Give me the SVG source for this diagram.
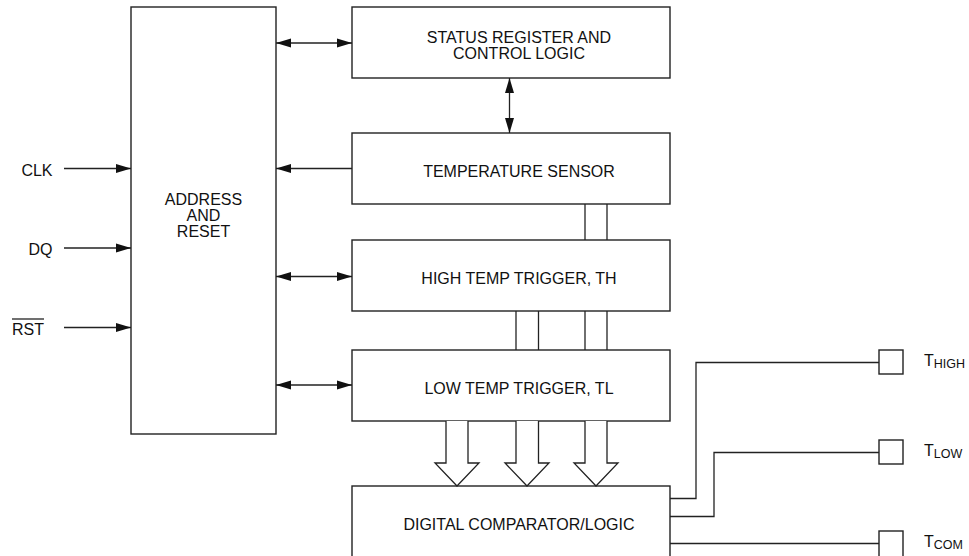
<svg xmlns="http://www.w3.org/2000/svg" width="969" height="556" viewBox="0 0 969 556">
<defs>
<style>
.box{fill:#fff;stroke:#222;stroke-width:1.4}
.ln{fill:none;stroke:#222;stroke-width:1.3}
.big{fill:#fff;stroke:#222;stroke-width:1.3;stroke-linejoin:miter}
text{font-family:"Liberation Sans",Arial,sans-serif;font-size:16px;fill:#111}
.c{text-anchor:middle}
.e{text-anchor:end}
.sub{font-size:12.5px}
</style>
<marker id="ah" markerUnits="userSpaceOnUse" markerWidth="16" markerHeight="10" refX="15" refY="4.5" orient="auto-start-reverse" viewBox="0 0 16 9">
<path d="M0,0 L15,4.5 L0,9 z" fill="#111"/>
</marker>
</defs>
<rect width="969" height="556" fill="#fff"/>

<g id="address">
<rect class="box" x="131" y="7" width="145" height="427"/>
<text class="c" x="203.5" y="205">ADDRESS</text>
<text class="c" x="203.5" y="221">AND</text>
<text class="c" x="203.5" y="237">RESET</text>
</g>

<g id="status">
<rect class="box" x="352" y="7" width="318" height="71"/>
<text class="c" x="519" y="43">STATUS REGISTER AND</text>
<text class="c" x="519" y="58.5">CONTROL LOGIC</text>
</g>

<g id="tempsensor">
<rect class="box" x="352" y="133" width="318" height="71"/>
<text class="c" x="519" y="176.5">TEMPERATURE SENSOR</text>
</g>

<g id="hightrigger">
<rect class="box" x="352" y="240" width="318" height="71"/>
<text class="c" x="519" y="284">HIGH TEMP TRIGGER, TH</text>
</g>

<g id="lowtrigger">
<rect class="box" x="352" y="350" width="318" height="71"/>
<text class="c" x="519" y="394">LOW TEMP TRIGGER, TL</text>
</g>

<g id="comparator">
<rect class="box" x="352" y="486" width="318" height="80"/>
<text class="c" x="519" y="530">DIGITAL COMPARATOR/LOGIC</text>
</g>

<g id="pin-clk"><text class="e" x="52.5" y="175.5">CLK</text></g>
<g id="pin-dq"><text class="e" x="52.5" y="255">DQ</text></g>
<g id="pin-rst">
<text x="12" y="334.5">RST</text>
<line class="ln" x1="12" y1="319" x2="44" y2="319"/>
</g>

<g id="out-thigh">
<rect class="box" x="879" y="350" width="24" height="24"/>
<text x="924" y="366">T<tspan class="sub" dy="2">HIGH</tspan></text>
</g>
<g id="out-tlow">
<rect class="box" x="879" y="440" width="24" height="24"/>
<text x="924" y="456">T<tspan class="sub" dy="2">LOW</tspan></text>
</g>
<g id="out-tcom">
<rect class="box" x="879" y="531" width="24" height="30"/>
<text x="924" y="547">T<tspan class="sub" dy="2">COM</tspan></text>
</g>

<g id="connectors">
<line class="ln" x1="276" y1="43" x2="352" y2="43" marker-start="url(#ah)" marker-end="url(#ah)"/>
<line class="ln" x1="509.5" y1="78" x2="509.5" y2="133" marker-start="url(#ah)" marker-end="url(#ah)"/>
<line class="ln" x1="352" y1="168.5" x2="276" y2="168.5" marker-end="url(#ah)"/>
<line class="ln" x1="276" y1="276.5" x2="352" y2="276.5" marker-start="url(#ah)" marker-end="url(#ah)"/>
<line class="ln" x1="276" y1="385" x2="352" y2="385" marker-start="url(#ah)" marker-end="url(#ah)"/>
<line class="ln" x1="64" y1="168.5" x2="131" y2="168.5" marker-end="url(#ah)"/>
<line class="ln" x1="64" y1="248" x2="131" y2="248" marker-end="url(#ah)"/>
<line class="ln" x1="64" y1="327.5" x2="131" y2="327.5" marker-end="url(#ah)"/>

<line class="ln" x1="585" y1="204" x2="585" y2="240"/>
<line class="ln" x1="607" y1="204" x2="607" y2="240"/>
<line class="ln" x1="516" y1="311" x2="516" y2="350"/>
<line class="ln" x1="538.5" y1="311" x2="538.5" y2="350"/>
<line class="ln" x1="585" y1="311" x2="585" y2="350"/>
<line class="ln" x1="607" y1="311" x2="607" y2="350"/>

<polyline class="big" points="446,421 446,463 435,463 457,486 479,463 468,463 468,421"/>
<polyline class="big" points="516,421 516,463 505,463 527,486 549,463 538.5,463 538.5,421"/>
<polyline class="big" points="585,421 585,463 574,463 596,486 618,463 607,463 607,421"/>

<polyline class="ln" points="670,498.5 696,498.5 696,362.5 879,362.5"/>
<polyline class="ln" points="670,516.5 714,516.5 714,452.5 879,452.5"/>
<polyline class="ln" points="670,543.5 879,543.5"/>
</g>
</svg>
